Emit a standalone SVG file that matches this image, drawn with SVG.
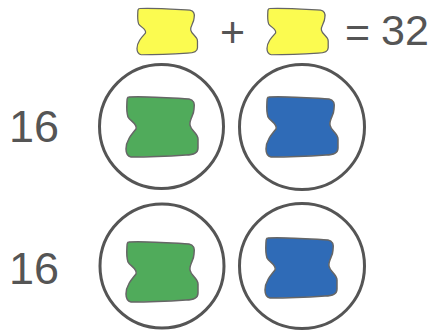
<svg xmlns="http://www.w3.org/2000/svg" width="437" height="330" viewBox="0 0 437 330">
<style>
.t{font-family:"Liberation Sans",Arial,sans-serif;fill:#555;}
.ring{fill:none;stroke:#555;stroke-width:3;}
.blob{stroke:#666;stroke-width:1.5;}
.y{fill:#fbfb50;}
.g{fill:#50ab5b;}
.b{fill:#2f6bb7;}
</style>
<defs>
<path id="blob" d="M3,2 C20,1 45,3 63,4 C68,5 69,8 68,14 C68,20 63,25 64,30 C65,36 72,38 72,44 L72,53 C72,58 68,60 60,60 C45,61 20,62 5,62 C1,61 0,58 0,54 C0,46 5,40 10,34 C12,29 4,26 2,22 C0,16 1,8 1,6 C1,3 2,2 3,2 Z"/>
</defs>
<rect width="437" height="330" fill="#fff"/>
<g id="equation">
<use href="#blob" class="blob y" transform="translate(137,7) scale(0.84,0.77)"/>
<text class="t" x="232.5" y="47" font-size="43" text-anchor="middle">+</text>
<use href="#blob" class="blob y" transform="translate(267,7) scale(0.85,0.77)"/>
<text class="t" x="357.5" y="47" font-size="43" text-anchor="middle">=</text>
<text class="t" x="381" y="45" font-size="43">32</text>
</g>
<g id="row1">
<text class="t" x="9" y="142" font-size="45">16</text>
<g id="r1c1"><circle class="ring" cx="161.5" cy="126.5" r="62"/><use href="#blob" class="blob g" transform="translate(126,95)"/></g>
<g id="r1c2"><circle class="ring" cx="302" cy="127" r="62.5"/><use href="#blob" class="blob b" transform="translate(266,95)"/></g>
</g>
<g id="row2">
<text class="t" x="9" y="284" font-size="45">16</text>
<g id="r2c1"><circle class="ring" cx="162" cy="266" r="62"/><use href="#blob" class="blob g" transform="translate(126,240)"/></g>
<g id="r2c2"><circle class="ring" cx="302" cy="266" r="62.5"/><use href="#blob" class="blob b" transform="translate(265,236)"/></g>
</g>
</svg>
